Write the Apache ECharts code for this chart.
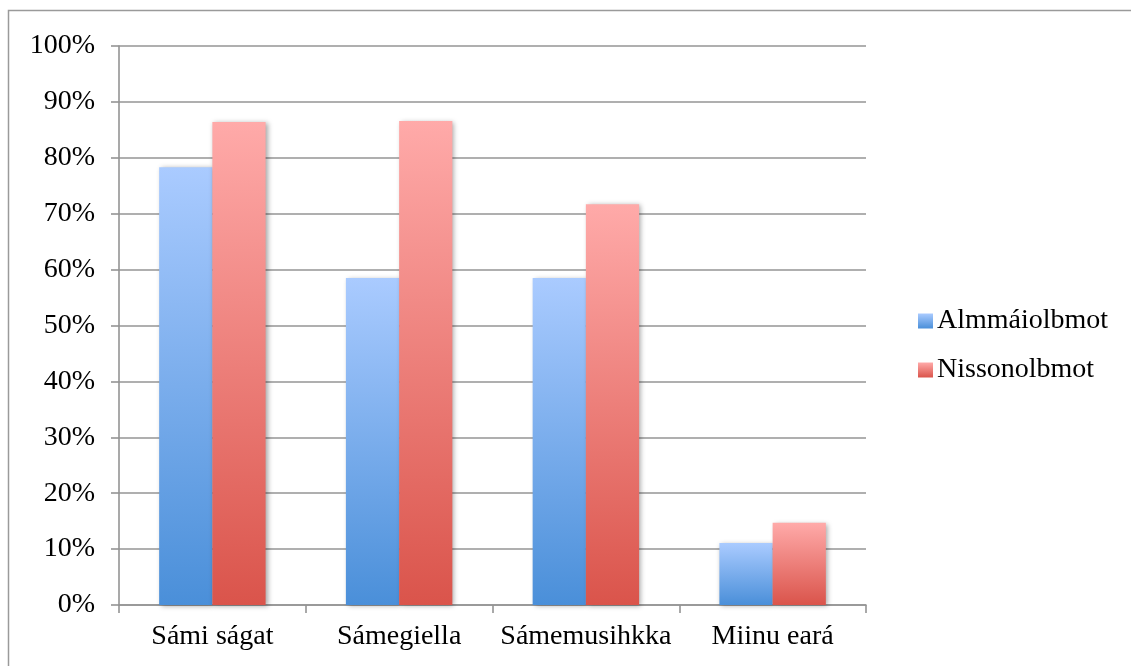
<!DOCTYPE html>
<html>
<head>
<meta charset="utf-8">
<script src="https://cdn.jsdelivr.net/npm/echarts@6/dist/echarts.min.js"></script>
<style>html,body{margin:0;padding:0;background:#fff}#c{width:1131px;height:666px}</style>
</head>
<body>
<div id="c"></div>
<script>
const categories = ['Sámi ságat', 'Sámegiella', 'Sámemusihkka', 'Miinu eará'];
const seriesNames = ['Almmáiolbmot', 'Nissonolbmot'];
const almmaiolbmot = [78.3, 58.5, 58.5, 11.1];
const nissonolbmot = [86.4, 86.6, 71.7, 14.7];

const FONT = 'Liberation Serif';
const FS = 28;
const LINE = '#949494';
const chart = echarts.init(document.getElementById('c'), null, {renderer: 'canvas'});

function grad(top, bottom) {
  return new echarts.graphic.LinearGradient(0, 0, 0, 1, [
    {offset: 0, color: top}, {offset: 1, color: bottom}
  ]);
}
const blue = grad('#aacbff', '#4a8fd9');
const red = grad('#ffaaa9', '#da544b');

chart.setOption({
  animation: false,
  backgroundColor: '#fff',
  graphic: [{
    type: 'rect', silent: true, z: -1,
    shape: {x: 8.5, y: 10.5, width: 1200, height: 700},
    style: {fill: 'none', stroke: '#9a9a9a', lineWidth: 1.5}
  }],
  grid: {left: 119, top: 46, width: 747, height: 559, containLabel: false},
  legend: {
    orient: 'vertical', left: 913, top: 302,
    itemWidth: 15, itemHeight: 15, itemGap: 21,
    icon: 'rect',
    textStyle: {fontFamily: FONT, fontSize: FS, color: '#000', padding: [0, 0, 0, -1]},
    data: seriesNames
  },
  xAxis: {
    type: 'category', data: categories,
    axisLine: {lineStyle: {color: LINE, width: 1.6}},
    axisTick: {show: true, interval: 0, length: 8, lineStyle: {color: LINE, width: 1.6}},
    axisLabel: {interval: 0, fontFamily: FONT, fontSize: FS, color: '#000', margin: 18}
  },
  yAxis: {
    type: 'value', min: 0, max: 100, interval: 10,
    axisLine: {show: true, lineStyle: {color: LINE, width: 1.6}},
    axisTick: {show: true, length: 8, lineStyle: {color: LINE, width: 1.6}},
    splitLine: {lineStyle: {color: LINE, width: 1.6}},
    axisLabel: {fontFamily: FONT, fontSize: FS, color: '#000', margin: 24, formatter: '{value}%'}
  },
  series: [
    {
      name: seriesNames[0], type: 'bar', data: almmaiolbmot,
      barGap: '0%', barCategoryGap: '43%',
      itemStyle: {color: blue, shadowColor: 'rgba(0,0,0,0.35)', shadowBlur: 5, shadowOffsetX: 2, shadowOffsetY: 1}
    },
    {
      name: seriesNames[1], type: 'bar', data: nissonolbmot,
      barGap: '0%', barCategoryGap: '43%',
      itemStyle: {color: red, shadowColor: 'rgba(0,0,0,0.35)', shadowBlur: 5, shadowOffsetX: 2, shadowOffsetY: 1}
    }
  ]
});
</script>
</body>
</html>
